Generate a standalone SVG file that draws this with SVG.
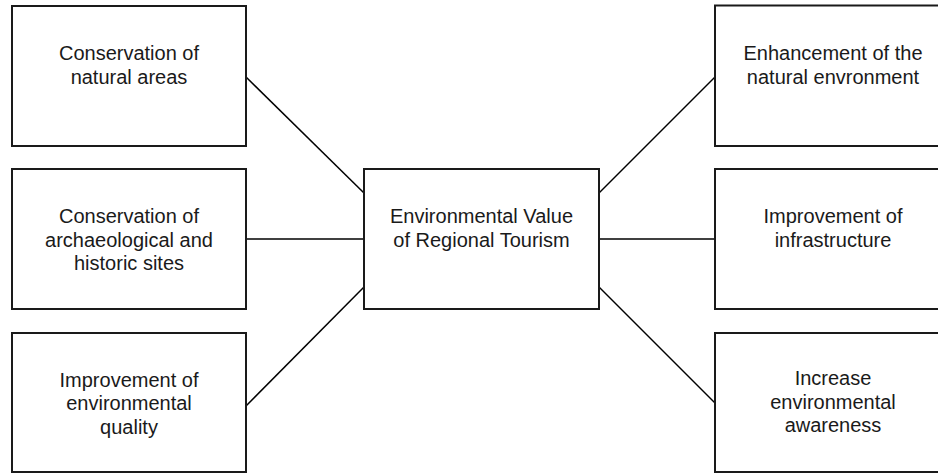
<svg xmlns="http://www.w3.org/2000/svg" width="938" height="473" viewBox="0 0 938 473">
  <style>
    .box { fill: #ffffff; stroke: #1a1a1a; stroke-width: 2; }
    .link { stroke: #000000; stroke-width: 1.5; fill: none; }
    .label { font-family: "Liberation Sans", Arial, sans-serif; font-size: 20px; fill: #1a1a1a; text-anchor: middle; }
  </style>
  <rect width="938" height="473" fill="#ffffff"/>

  <!-- connectors from the central node to each outer node -->
  <g id="connectors">
    <line class="link" x1="246" y1="77" x2="364" y2="193"/>
    <line class="link" x1="246" y1="239" x2="364" y2="239"/>
    <line class="link" x1="246" y1="406" x2="364" y2="287"/>
    <line class="link" x1="599" y1="193" x2="715" y2="77"/>
    <line class="link" x1="599" y1="239" x2="715" y2="239"/>
    <line class="link" x1="599" y1="287" x2="715" y2="403"/>
  </g>

  <g id="center">
    <rect class="box" x="364" y="169" width="235" height="140"/>
    <text class="label" x="481.5" y="223">Environmental Value</text>
    <text class="label" x="481.5" y="246.5">of Regional Tourism</text>
  </g>

  <g id="natural-areas">
    <rect class="box" x="12" y="6" width="234" height="140"/>
    <text class="label" x="129" y="60">Conservation of</text>
    <text class="label" x="129" y="83.5">natural areas</text>
  </g>

  <g id="historic-sites">
    <rect class="box" x="12" y="169" width="234" height="140"/>
    <text class="label" x="129" y="223">Conservation of</text>
    <text class="label" x="129" y="246.5">archaeological and</text>
    <text class="label" x="129" y="270">historic sites</text>
  </g>

  <g id="environmental-quality">
    <rect class="box" x="12" y="333" width="234" height="139"/>
    <text class="label" x="129" y="386.5">Improvement of</text>
    <text class="label" x="129" y="410">environmental</text>
    <text class="label" x="129" y="433.5">quality</text>
  </g>

  <g id="natural-environment">
    <rect class="box" x="715" y="5.5" width="236" height="140.5"/>
    <text class="label" x="833" y="60">Enhancement of the</text>
    <text class="label" x="833" y="83.5">natural envronment</text>
  </g>

  <g id="infrastructure">
    <rect class="box" x="715" y="169" width="236" height="140"/>
    <text class="label" x="833" y="223">Improvement of</text>
    <text class="label" x="833" y="246.5">infrastructure</text>
  </g>

  <g id="awareness">
    <rect class="box" x="715" y="333" width="236" height="139"/>
    <text class="label" x="833" y="385">Increase</text>
    <text class="label" x="833" y="408.5">environmental</text>
    <text class="label" x="833" y="432">awareness</text>
  </g>
</svg>
